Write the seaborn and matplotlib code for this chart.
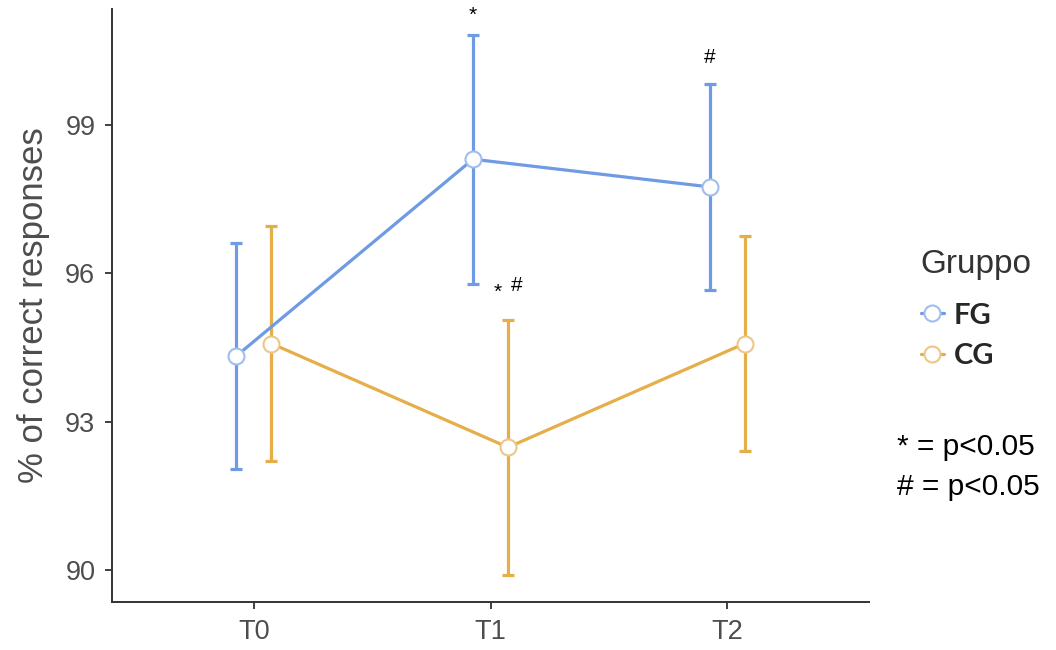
import numpy as np
import pandas as pd
import matplotlib
matplotlib.use("Agg")
import matplotlib.pyplot as plt
import seaborn as sns
from matplotlib.lines import Line2D

# Mean % of correct responses per session and group, with error half-widths
times = ["T0", "T1", "T2"]
groups = ["FG", "CG"]
fg_mean = [94.33, 98.31, 97.75]
fg_err = [2.28, 2.52, 2.09]
cg_mean = [94.58, 92.48, 94.58]
cg_err = [2.37, 2.58, 2.18]
y_ticks = [90, 93, 96, 99]

line_colors = {"FG": "#6E9BE3", "CG": "#E6AE48"}
edge_colors = {"FG": "#9FBDEE", "CG": "#EDC786"}

sns.set_theme(style="white")
plt.rcParams["font.family"] = ["Liberation Sans", "DejaVu Sans"]

df = pd.DataFrame({
    "time": times * 2,
    "Gruppo": ["FG"] * len(times) + ["CG"] * len(times),
    "mean": fg_mean + cg_mean,
    "err": fg_err + cg_err,
})
shift = {"FG": -0.074, "CG": 0.074}
df["x"] = df["time"].map({t: i for i, t in enumerate(times)}) + df["Gruppo"].map(shift)

fig = plt.figure(figsize=(10.56, 6.5), dpi=100)
ax = fig.add_axes([112 / 1056, 48 / 650, (869 - 112) / 1056, (602 - 9) / 650])

for g in groups:
    sub = df[df["Gruppo"] == g]
    ax.errorbar(sub["x"], sub["mean"], yerr=sub["err"], fmt="none",
                ecolor=line_colors[g], elinewidth=2.3, capsize=4.3,
                capthick=2.3, zorder=2)
    sns.lineplot(data=sub, x="x", y="mean", color=line_colors[g], marker="o",
                 markersize=11.5, markerfacecolor="white",
                 markeredgecolor=edge_colors[g], markeredgewidth=1.5,
                 linewidth=2.3, ax=ax, legend=False, zorder=3)

# significance markers
ann_kw = dict(ha="center", va="center", fontsize=15, color="black")
ax.text(1 - 0.074, 101.22, "*", **ann_kw)
ax.text(2 - 0.074, 100.36, "#", **ann_kw)
ax.text(1.03, 95.62, "*", **ann_kw)
ax.text(1.11, 95.76, "#", **ann_kw)

ax.set_xlim(-0.6, 2.6)
ax.set_ylim(89.35, 101.35)
ax.set_xticks(range(len(times)))
ax.set_xticklabels(times)
ax.set_yticks(y_ticks)
ax.set_xlabel("")
ax.set_ylabel("% of correct responses", fontsize=25, color="#4D4D4D", labelpad=11)

for side in ["top", "right"]:
    ax.spines[side].set_visible(False)
for side in ["left", "bottom"]:
    ax.spines[side].set_color("#333333")
    ax.spines[side].set_linewidth(1.4)
ax.tick_params(axis="both", which="major", length=5, width=1.3,
               color="#333333", labelcolor="#4D4D4D", labelsize=19.5, pad=7,
               left=True, bottom=True)

handles = [
    Line2D([0], [0], color=line_colors[g], marker="o", markersize=11.5,
           markerfacecolor="white", markeredgecolor=edge_colors[g],
           markeredgewidth=1.5, linewidth=2.3)
    for g in groups
]
leg = fig.legend(handles, groups, title="Gruppo", loc="upper left",
                 bbox_to_anchor=(906 / 1056, 1 - 234 / 650), frameon=False,
                 prop={"family": "Lato", "weight": "bold", "size": 21},
                 handlelength=0.8, handletextpad=0.35, labelspacing=0.5,
                 borderpad=0, alignment="left")
leg.get_title().set_fontsize(24)
leg.get_title().set_color("#333333")
# extra gap between the legend title and its entries
leg._legend_box.sep = 0.5 * 21 + 6

fig.text(897 / 1056, 1 - 447 / 650, "* = p<0.05", fontsize=21.5, color="black",
         ha="left", va="center")
fig.text(897 / 1056, 1 - 487 / 650, "# = p<0.05", fontsize=21.5, color="black",
         ha="left", va="center")

fig.savefig("out.png", dpi=100)
